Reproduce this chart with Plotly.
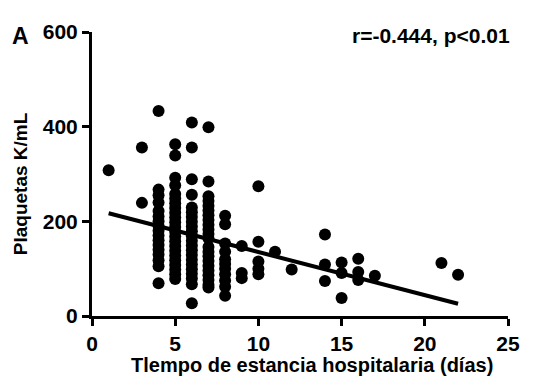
import plotly.graph_objects as go

# Data (days, platelets K/mL)
plt_1 = [308]
plt_3 = [356, 239]
plt_4 = [433, 267, 255, 240, 222, 210, 200, 190, 180, 170, 160, 150, 140, 130, 118, 105, 69]
plt_5 = [363, 339, 292, 276, 258, 248, 238, 228, 218, 208, 198, 188, 178, 168, 158, 148, 138,
         128, 118, 108, 98, 88, 78]
plt_6 = [409, 356, 289, 256, 229, 219, 209, 199, 189, 179, 169, 159, 149, 139, 129, 119, 109,
         99, 89, 79, 67, 27]
plt_7 = [399, 284, 253, 243, 233, 223, 213, 203, 193, 183, 173, 164, 146, 136, 126, 116, 106,
         96, 86, 76, 66, 60]
plt_8 = [212, 194, 153, 136, 120, 110, 100, 88, 75, 62, 43]
plt_9 = [148, 91, 80]
plt_10 = [274, 157, 115, 100, 88]
plt_11 = [136]
plt_12 = [98]
plt_14 = [172, 109, 74]
plt_15 = [113, 91, 38]
plt_16 = [121, 93, 76]
plt_17 = [85]
plt_21 = [112]
plt_22 = [87]

groups = {1: plt_1, 3: plt_3, 4: plt_4, 5: plt_5, 6: plt_6, 7: plt_7, 8: plt_8, 9: plt_9,
          10: plt_10, 11: plt_11, 12: plt_12, 14: plt_14, 15: plt_15, 16: plt_16, 17: plt_17,
          21: plt_21, 22: plt_22}

xs, ys = [], []
for d, vals in groups.items():
    for v in vals:
        xs.append(d)
        ys.append(v)

# Regression line
fit_x = [1, 22]
fit_y = [217, 26]

x_ticks = [0, 5, 10, 15, 20, 25]
y_ticks = [0, 200, 400, 600]

FONT = "Arial, Liberation Sans, Helvetica, sans-serif"

fig = go.Figure()
fig.add_trace(go.Scatter(x=xs, y=ys, mode="markers",
                         marker=dict(color="black", size=12, line=dict(width=0)),
                         showlegend=False, cliponaxis=False))
fig.add_trace(go.Scatter(x=fit_x, y=fit_y, mode="lines",
                         line=dict(color="black", width=4), showlegend=False))

fig.update_layout(
    width=544, height=390,
    margin=dict(l=84, r=44, t=17, b=82),
    paper_bgcolor="white", plot_bgcolor="white",
    font=dict(family=FONT, color="black"),
    xaxis=dict(range=[0, 25], tickvals=x_ticks, showgrid=False, zeroline=False,
               showline=True, linecolor="black", linewidth=3,
               ticks="outside", ticklen=7, tickwidth=3, tickcolor="black",
               tickfont=dict(size=21, family=FONT, weight="bold")),
    yaxis=dict(range=[0, 600], tickvals=y_ticks, showgrid=False, zeroline=False,
               showline=True, linecolor="black", linewidth=3,
               ticks="outside", ticklen=7, tickwidth=3, tickcolor="black",
               tickfont=dict(size=21, family=FONT, weight="bold")),
    annotations=[
        dict(text="<b>Tlempo de estancia hospitalaria (días)</b>", xref="paper", yref="paper",
             x=0.529, y=-0.172, xanchor="center", yanchor="middle", showarrow=False,
             font=dict(size=20, family=FONT)),
        dict(text="<b>Plaquetas K/mL</b>", xref="paper", yref="paper", textangle=-90,
             x=-0.17, y=0.465, xanchor="center", yanchor="middle", showarrow=False,
             font=dict(size=19, family=FONT)),
        dict(text="<b>A</b>", xref="paper", yref="paper", x=-0.173, y=0.986,
             xanchor="center", yanchor="middle", showarrow=False,
             font=dict(size=23, family=FONT)),
        dict(text="<b>r=-0.444, p<0.01</b>", xref="paper", yref="paper", x=1.01, y=0.986,
             xanchor="right", yanchor="middle", showarrow=False,
             font=dict(size=21, family=FONT)),
    ],
)

fig.write_html("out.html")
